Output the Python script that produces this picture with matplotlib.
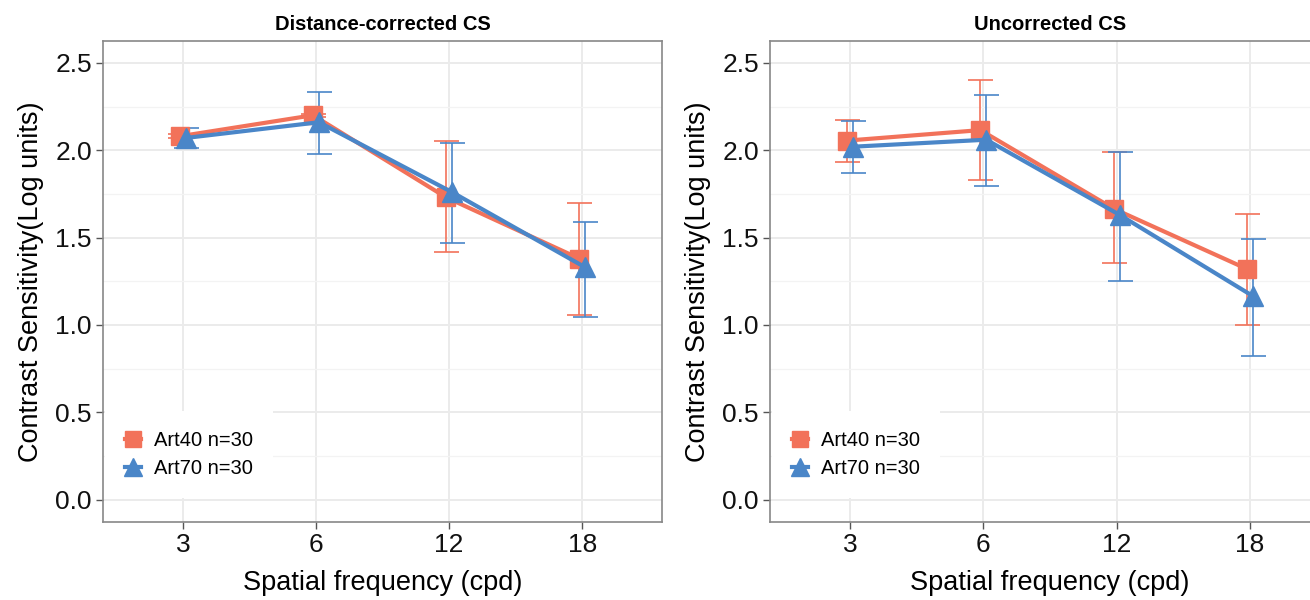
import matplotlib
matplotlib.use("Agg")
import matplotlib.pyplot as plt
from matplotlib.lines import Line2D
import numpy as np

plt.rcParams['font.family'] = ['Liberation Sans', 'DejaVu Sans']

# data
freqs = ['3', '6', '12', '18']
groups = ['Art40 n=30', 'Art70 n=30']

# Distance-corrected CS
dc_art40 = [2.08, 2.20, 1.73, 1.38]
dc_art40_lo = [2.07, 2.19, 1.415, 1.055]
dc_art40_hi = [2.09, 2.21, 2.05, 1.70]
dc_art70 = [2.07, 2.16, 1.76, 1.33]
dc_art70_lo = [2.01, 1.98, 1.47, 1.048]
dc_art70_hi = [2.125, 2.335, 2.044, 1.589]

# Uncorrected CS
uc_art40 = [2.055, 2.115, 1.665, 1.32]
uc_art40_lo = [1.935, 1.83, 1.352, 0.998]
uc_art40_hi = [2.175, 2.40, 1.99, 1.634]
uc_art70 = [2.02, 2.06, 1.63, 1.165]
uc_art70_lo = [1.869, 1.796, 1.253, 0.821]
uc_art70_hi = [2.167, 2.318, 1.99, 1.493]

orange = '#F2725A'
blue = '#4A86C8'

W, H = 1310, 600
fig = plt.figure(figsize=(W / 100, H / 100), dpi=100)

bottom = (H - 521.5) / H
height = 480.5 / H
ax1 = fig.add_axes([103 / W, bottom, 559 / W, height])
ax2 = fig.add_axes([770 / W, bottom, 560 / W, height])


def panel(ax, title, m40, lo40, hi40, m70, lo70, hi70):
    x = np.arange(1, len(freqs) + 1)
    d = 0.022
    for xs, m, lo, hi, col, mk, ms in [
        (x - d, m40, lo40, hi40, orange, 's', 13),
        (x + d, m70, lo70, hi70, blue, '^', 15),
    ]:
        m = np.array(m)
        yerr = [m - np.array(lo), np.array(hi) - m]
        ax.errorbar(xs, m, yerr=yerr, fmt='none', ecolor=col, elinewidth=1.2,
                    capsize=9, capthick=1.2, zorder=3)
        ax.plot(xs, m, color=col, lw=3, marker=mk, markersize=ms, zorder=4)

    ax.set_xlim(0.4, 4.6)
    ax.set_ylim(-0.125, 2.625)
    ax.set_xticks(x)
    ax.set_xticklabels(freqs)
    ax.set_yticks([0, 0.5, 1.0, 1.5, 2.0, 2.5])
    ax.set_yticklabels(['0.0', '0.5', '1.0', '1.5', '2.0', '2.5'])
    ax.set_yticks(np.arange(0.25, 2.5, 0.5), minor=True)
    ax.grid(True, which='major', color='#EBEBEB', lw=1.4, zorder=0)
    ax.grid(True, which='minor', axis='y', color='#F3F3F3', lw=0.9, zorder=0)
    ax.set_axisbelow(True)
    ax.tick_params(axis='both', which='major', labelsize=19, length=5,
                   width=1, color='#555555', pad=3, labelcolor='#111111')
    ax.tick_params(axis='y', which='minor', length=0)
    for s in ax.spines.values():
        s.set_color('#888888')
        s.set_linewidth(1.2)
    ax.set_xlabel('Spatial frequency (cpd)', fontsize=19.5, labelpad=10)
    ax.set_ylabel('Contrast Sensitivity(Log units)', fontsize=19.5, labelpad=8)
    ax.set_title(title, fontsize=14.5, fontweight='bold', pad=8)

    handles = [
        Line2D([0], [0], color=orange, lw=3, marker='s', markersize=12),
        Line2D([0], [0], color=blue, lw=3, marker='^', markersize=13),
    ]
    leg = ax.legend(handles, groups, loc='upper left',
                    bbox_to_anchor=(0.003, 0.231),
                    fontsize=14.5, frameon=True, fancybox=False,
                    handlelength=0.8, handletextpad=0.66, labelspacing=0.45,
                    borderpad=1.0, borderaxespad=0)
    leg.get_frame().set_facecolor('white')
    leg.get_frame().set_edgecolor('none')
    leg.get_frame().set_alpha(1)


panel(ax1, 'Distance-corrected CS', dc_art40, dc_art40_lo, dc_art40_hi,
      dc_art70, dc_art70_lo, dc_art70_hi)
panel(ax2, 'Uncorrected CS', uc_art40, uc_art40_lo, uc_art40_hi,
      uc_art70, uc_art70_lo, uc_art70_hi)

fig.savefig('out.png', dpi=100)
